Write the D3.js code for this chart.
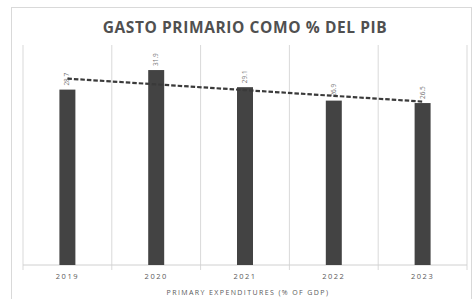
<!DOCTYPE html>
<html>
<head>
<meta charset="utf-8">
<script src="https://cdn.jsdelivr.net/npm/d3@7"></script>
<style>
  body { margin: 0; background: #fff; }
  svg { display: block; font-family: "Open Sans", sans-serif; }
</style>
</head>
<body>
<svg width="474" height="299"></svg>
<script>
var years = ["2019", "2020", "2021", "2022", "2023"];
var values = [28.7, 31.9, 29.1, 26.9, 26.5];
var labels = ["28.7", "31.9", "29.1", "26.9", "26.5"];

var svg = d3.select("svg"),
    margin = {top: 45, right: 7, bottom: 34, left: 23},
    width = 474 - margin.left - margin.right,
    height = 299 - margin.top - margin.bottom;

// chart frame
svg.append("rect")
    .attr("x", 11.5).attr("y", 7.5)
    .attr("width", 460).attr("height", 300)
    .attr("fill", "none")
    .attr("stroke", "#d9d9d9");

svg.append("text")
    .attr("x", 245).attr("y", 33)
    .attr("text-anchor", "middle")
    .style("font-size", "15.5px")
    .style("font-weight", "bold")
    .style("letter-spacing", "0.6px")
    .style("fill", "#505050")
    .text("GASTO PRIMARIO COMO % DEL PIB");

var x = d3.scaleBand().domain(years).range([0, width]).paddingInner(0.82).paddingOuter(0.41),
    y = d3.scaleLinear().domain([0, 36]).range([height, 0]);

var g = svg.append("g")
    .attr("transform", "translate(" + margin.left + "," + margin.top + ")");

// vertical gridlines at band boundaries
var bounds = d3.range(years.length + 1).map(function(i) { return i * width / years.length; });
g.selectAll(".grid")
  .data(bounds)
  .enter().append("line")
    .attr("x1", function(d) { return d; })
    .attr("x2", function(d) { return d; })
    .attr("y1", 0)
    .attr("y2", height + 5)
    .attr("stroke", "#d9d9d9")
    .attr("stroke-width", 1);

g.append("line")
    .attr("x1", 0).attr("x2", width)
    .attr("y1", height).attr("y2", height)
    .attr("stroke", "#d0d0d0");

g.selectAll(".bar")
  .data(values)
  .enter().append("rect")
    .attr("class", "bar")
    .attr("x", function(d, i) { return x(years[i]); })
    .attr("y", function(d) { return y(d); })
    .attr("width", x.bandwidth())
    .attr("height", function(d) { return height - y(d); })
    .attr("fill", "#434343");

// value labels, rotated
g.selectAll(".lbl")
  .data(values)
  .enter().append("text")
    .attr("transform", function(d, i) {
      return "translate(" + (x(years[i]) + x.bandwidth() / 2 + 2) + "," + (y(d) - 4) + ") rotate(-90)";
    })
    .style("font-size", "6.5px")
    .style("fill", "#777")
    .text(function(d, i) { return labels[i]; });

// linear trend
var n = values.length, mx = (n - 1) / 2, my = d3.mean(values);
var slope = d3.sum(values, function(v, i) { return (i - mx) * (v - my); }) /
            d3.sum(values, function(v, i) { return (i - mx) * (i - mx); });
var trend = values.map(function(v, i) { return my + slope * (i - mx); });

var line = d3.line()
    .x(function(d, i) { return x(years[i]) + x.bandwidth() / 2; })
    .y(function(d) { return y(d); });

g.append("path")
    .datum(trend)
    .attr("d", line)
    .attr("fill", "none")
    .attr("stroke", "#3a3a3a")
    .attr("stroke-width", 2.2)
    .attr("stroke-dasharray", "4.5,2");

g.selectAll(".yr")
  .data(years)
  .enter().append("text")
    .attr("x", function(d) { return x(d) + x.bandwidth() / 2; })
    .attr("y", height + 14)
    .attr("text-anchor", "middle")
    .style("font-size", "7.5px")
    .style("letter-spacing", "1.5px")
    .style("fill", "#595959")
    .text(function(d) { return d; });

svg.append("text")
    .attr("x", 248).attr("y", 295)
    .attr("text-anchor", "middle")
    .style("font-size", "7px")
    .style("letter-spacing", "1.4px")
    .style("fill", "#595959")
    .text("PRIMARY EXPENDITURES (% OF GDP)");
</script>
</body>
</html>
